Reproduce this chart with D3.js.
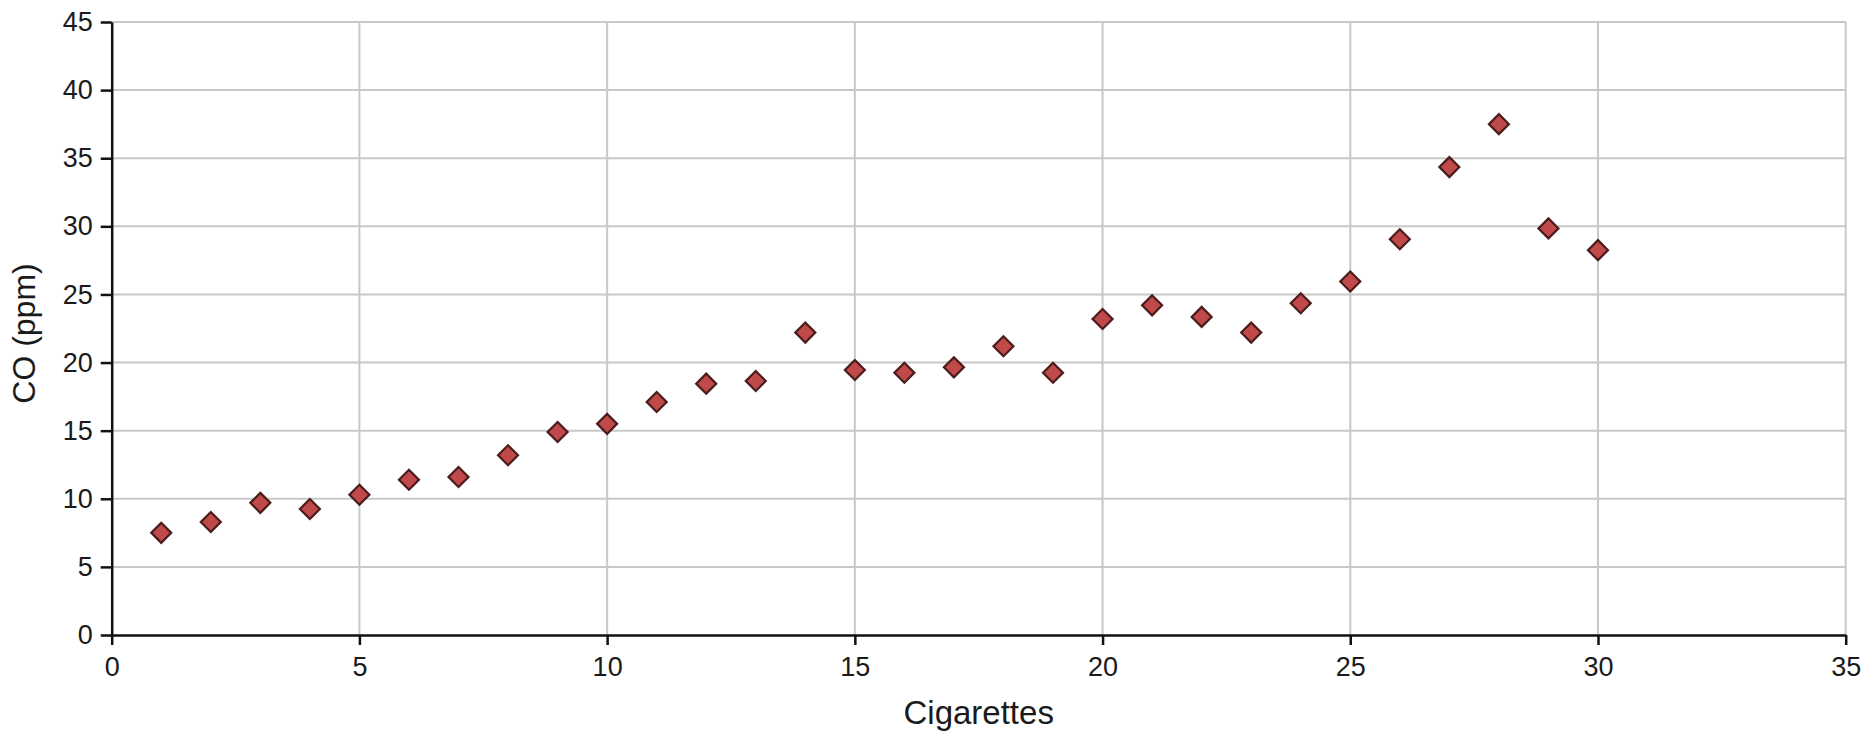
<!DOCTYPE html>
<html>
<head>
<meta charset="utf-8">
<script src="https://cdnjs.cloudflare.com/ajax/libs/d3/7.8.5/d3.min.js"></script>
<style>
  html, body { margin: 0; padding: 0; background: #ffffff; }
  svg { display: block; }
  text { font-family: "Liberation Sans", Arial, sans-serif; fill: #1a1a1a; }
</style>
</head>
<body>
<svg id="chart" width="1869" height="737"></svg>
<script>
const cigarettes = [1,2,3,4,5,6,7,8,9,10,11,12,13,14,15,16,17,18,19,20,21,22,23,24,25,26,27,28,29,30];
const coPpm = [7.5,8.3,9.7,9.25,10.3,11.4,11.6,13.2,14.9,15.5,17.1,18.45,18.65,22.2,19.45,19.25,19.65,21.2,19.25,23.2,24.2,23.35,22.2,24.35,25.95,29.05,34.35,37.5,29.85,28.25];
const xTicks = [0,5,10,15,20,25,30,35];
const yTicks = [0,5,10,15,20,25,30,35,40,45];
const xTitle = "Cigarettes";
const yTitle = "CO (ppm)";

const svg = d3.select("#chart");
const margin = {left: 111.7, right: 1869 - 1845.7, top: 22, bottom: 737 - 635};
const W = 1869, H = 737;

const x = d3.scaleLinear().domain([0, 35]).range([margin.left, W - margin.right]);
const y = d3.scaleLinear().domain([0, 45]).range([H - margin.bottom, margin.top]);

// gridlines
svg.append("g").selectAll("line.v")
  .data(xTicks.filter(d => d > 0))
  .join("line")
  .attr("x1", d => x(d)).attr("x2", d => x(d))
  .attr("y1", y(0)).attr("y2", y(45))
  .attr("stroke", "#c8c8c8").attr("stroke-width", 2);
svg.append("g").selectAll("line.h")
  .data(yTicks.filter(d => d > 0))
  .join("line")
  .attr("x1", x(0)).attr("x2", x(35))
  .attr("y1", d => y(d)).attr("y2", d => y(d))
  .attr("stroke", "#c8c8c8").attr("stroke-width", 2);

// axes
const xAxis = d3.axisBottom(x).tickValues(xTicks).tickSize(10).tickPadding(12).tickSizeOuter(0);
const yAxis = d3.axisLeft(y).tickValues(yTicks).tickSize(11).tickPadding(8).tickSizeOuter(0);

const gx = svg.append("g").attr("transform", `translate(0,${y(0)})`).call(xAxis);
const gy = svg.append("g").attr("transform", `translate(${x(0)},0)`).call(yAxis);
[gx, gy].forEach(g => {
  g.select(".domain").attr("stroke", "#111").attr("stroke-width", 2.5);
  g.selectAll(".tick line").attr("stroke", "#111").attr("stroke-width", 2.5);
  g.selectAll(".tick text").attr("font-family", "Liberation Sans, Arial, sans-serif")
    .attr("font-size", 27).attr("fill", "#1a1a1a");
});
gx.selectAll(".tick text").attr("dy", "0.71em");

// titles
svg.append("text")
  .attr("x", (x(0) + x(35)) / 2).attr("y", 724)
  .attr("text-anchor", "middle")
  .attr("font-size", 33)
  .text(xTitle);
svg.append("text")
  .attr("transform", `translate(35,${(y(0) + y(45)) / 2 + 5}) rotate(-90)`)
  .attr("text-anchor", "middle")
  .attr("font-size", 32)
  .text(yTitle);

// markers
const sym = d3.symbol().type(d3.symbolSquare).size(200);
svg.append("g").selectAll("path")
  .data(cigarettes.map((c, i) => [c, coPpm[i]]))
  .join("path")
  .attr("d", sym)
  .attr("transform", d => `translate(${x(d[0])},${y(d[1])}) rotate(45)`)
  .attr("fill", "#c04a4a")
  .attr("stroke", "#4a1c1c")
  .attr("stroke-width", 2.2);
</script>
</body>
</html>
